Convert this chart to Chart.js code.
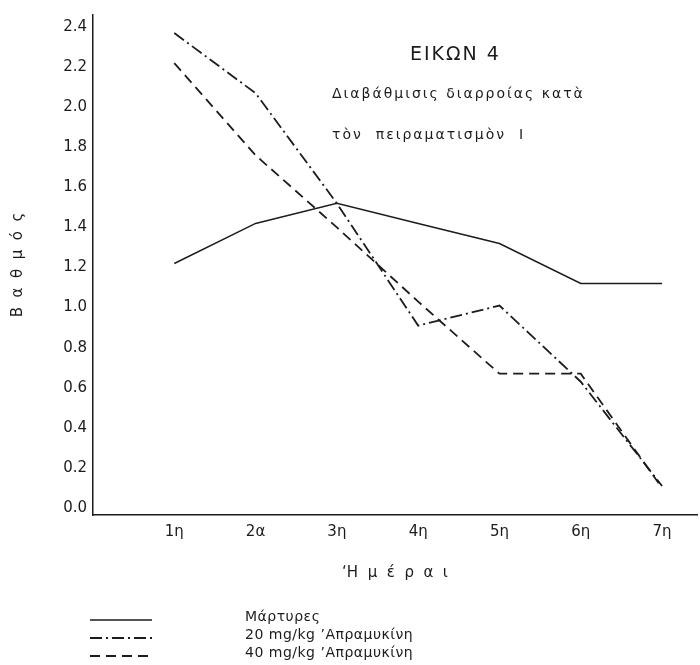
<!DOCTYPE html>
<html lang="el">
<head>
<meta charset="utf-8">
<title>ΕΙΚΩΝ 4</title>
<script src="https://cdn.jsdelivr.net/npm/chart.js@4/dist/chart.umd.min.js"></script>
<style>
  html, body { margin: 0; padding: 0; background: #fff; }
  canvas { display: block; }
</style>
</head>
<body>
<canvas id="chart" width="700" height="665"></canvas>
<script>
// Δεδομένα
const dayLabels = ['1η', '2α', '3η', '4η', '5η', '6η', '7η'];
const yTickLabels = ['0.0', '0.2', '0.4', '0.6', '0.8', '1.0', '1.2', '1.4', '1.6', '1.8', '2.0', '2.2', '2.4'];

const martyres = [1.22, 1.42, 1.52, 1.42, 1.32, 1.12, 1.12];
const dose20 = [2.37, 2.07, 1.52, 0.91, 1.01, 0.63, 0.11];
const dose40 = [2.22, 1.76, 1.40, 1.03, 0.67, 0.67, 0.10];

const seriesNames = ['Μάρτυρες', '20 mg/kg ’Απραμυκίνη', '40 mg/kg ’Απραμυκίνη'];

const titleLines = ['ΕΙΚΩΝ 4', 'Διαβάθμισις διαρροίας κατὰ', 'τὸν  πειραματισμὸν  Ι'];
const xTitle = '‘Η  μ  έ  ρ  α  ι';
const yTitle = 'Β  α  θ  μ  ό  ς';

const ink = '#1c1c1c';
const font = 'DejaVu Sans';

function toPoints(values) {
  return values.map((v, i) => ({ x: i + 1, y: v }));
}

// Τίτλος μέσα στο διάγραμμα και υπόμνημα κάτω
const annotations = {
  id: 'annotations',
  afterDraw(chart) {
    const ctx = chart.ctx;
    ctx.save();
    ctx.fillStyle = ink;
    ctx.textBaseline = 'middle';
    ctx.textAlign = 'left';

    ctx.font = `19px "${font}"`;
    ctx.letterSpacing = '2px';
    ctx.fillText(titleLines[0], 410, 55);

    ctx.font = `14px "${font}"`;
    ctx.letterSpacing = '2px';
    ctx.fillText(titleLines[1], 332, 94);
    ctx.fillText(titleLines[2], 332, 135);

    // Υπόμνημα
    ctx.letterSpacing = '0.5px';
    chart.data.datasets.forEach((ds, i) => {
      const y = 617 + i * 18;
      ctx.beginPath();
      ctx.lineWidth = ds.borderWidth;
      ctx.strokeStyle = ds.borderColor;
      ctx.setLineDash(ds.borderDash || []);
      ctx.moveTo(90, y + 3);
      ctx.lineTo(152, y + 3);
      ctx.stroke();
      ctx.fillText(ds.label, 245, y);
    });
    ctx.restore();
  }
};

const chart = new Chart(document.getElementById('chart'), {
  type: 'line',
  data: {
    datasets: [
      {
        label: seriesNames[0],
        data: toPoints(martyres),
        borderColor: ink,
        borderWidth: 1.5,
        borderDash: [],
        pointRadius: 0,
        tension: 0
      },
      {
        label: seriesNames[1],
        data: toPoints(dose20),
        borderColor: ink,
        borderWidth: 1.8,
        borderDash: [12, 4, 2, 4],
        pointRadius: 0,
        tension: 0
      },
      {
        label: seriesNames[2],
        data: toPoints(dose40),
        borderColor: ink,
        borderWidth: 1.8,
        borderDash: [10, 6],
        pointRadius: 0,
        tension: 0
      }
    ]
  },
  options: {
    responsive: false,
    animation: false,
    layout: { padding: { top: 10, right: 3, left: 0, bottom: 80 } },
    plugins: {
      legend: { display: false },
      tooltip: { enabled: false }
    },
    scales: {
      x: {
        type: 'linear',
        min: 0,
        max: 7.43,
        grid: { display: false, drawTicks: false },
        border: { display: true, color: ink, width: 1.5 },
        afterBuildTicks: scale => {
          scale.ticks = dayLabels.map((_, i) => ({ value: i + 1 }));
        },
        afterFit: scale => { scale.height = 70; },
        ticks: {
          color: ink,
          padding: 8,
          maxRotation: 0,
          font: { family: font, size: 15 },
          callback: value => dayLabels[value - 1]
        },
        title: {
          display: true,
          text: xTitle,
          color: ink,
          font: { family: font, size: 15 },
          padding: { top: 0, bottom: 3 }
        }
      },
      y: {
        min: -0.035,
        max: 2.46,
        grid: { display: false, drawTicks: false },
        border: { display: true, color: ink, width: 1.5 },
        afterBuildTicks: scale => {
          scale.ticks = yTickLabels.map(t => ({ value: parseFloat(t) }));
        },
        afterFit: scale => { scale.width = 93; },
        ticks: {
          color: ink,
          padding: 6,
          font: { family: font, size: 15 },
          callback: value => yTickLabels.find(t => parseFloat(t) === value)
        },
        title: {
          display: true,
          text: yTitle,
          color: ink,
          font: { family: font, size: 15 },
          padding: { top: 9, bottom: 0 }
        }
      }
    }
  },
  plugins: [annotations]
});
</script>
</body>
</html>
